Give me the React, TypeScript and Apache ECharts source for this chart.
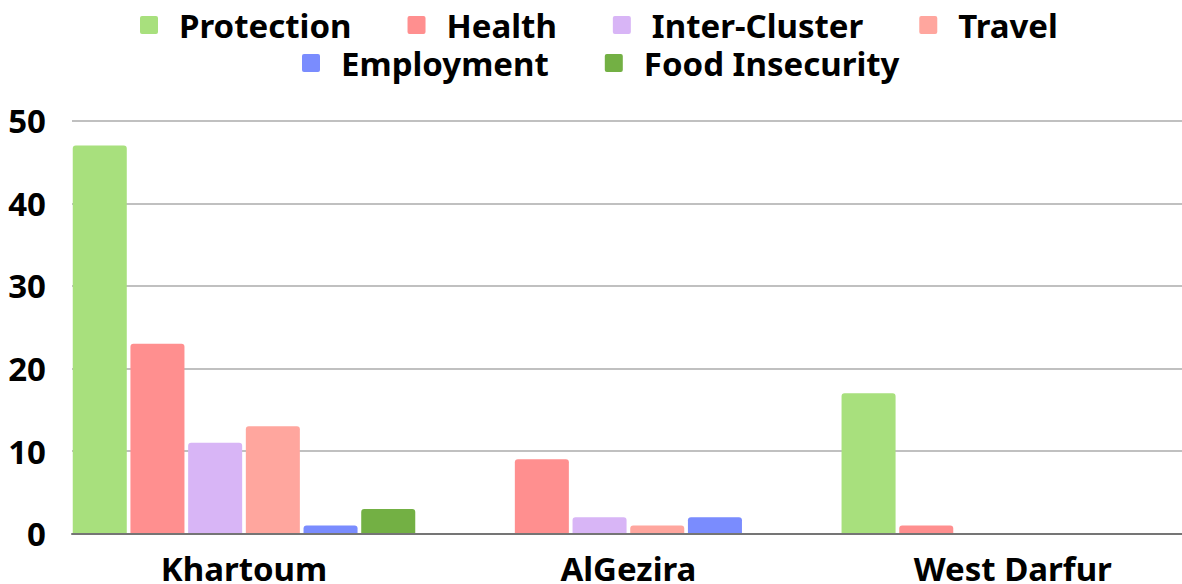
import React, { useEffect, useRef } from "react";
import * as echarts from "echarts";

const categories = ["Khartoum", "AlGezira", "West Darfur"];
const seriesNames = ["Protection", "Health", "Inter-Cluster", "Travel", "Employment", "Food Insecurity"];
const protection = [47, 0, 17];
const health = [23, 9, 1];
const interCluster = [11, 2, 0];
const travel = [13, 1, 0];
const employment = [1, 2, 0];
const foodInsecurity = [3, 0, 0];
const yTicks = [0, 10, 20, 30, 40, 50];
const colors = ["#a8e07d", "#ff8f8f", "#d8b5f6", "#ffa69e", "#7a8cfe", "#73b044"];

const FONT = "'Noto Sans', 'Open Sans', sans-serif";
const ICON = "path://M2,0H16A2,2,0,0,1,18,2V16A2,2,0,0,1,16,18H2A2,2,0,0,1,0,16V2A2,2,0,0,1,2,0Z";

export default function App() {
  const ref = useRef<HTMLDivElement>(null);
  useEffect(() => {
    document.body.style.margin = "0";
    if (!ref.current) return;
    const chart = echarts.init(ref.current, null, { renderer: "svg" });
    const values = [protection, health, interCluster, travel, employment, foodInsecurity];
    const top = 120.7;
    const bottom = 584 - 533.7;
    const legendText = {
      fontFamily: FONT,
      fontWeight: "bold" as const,
      fontSize: 33,
      lineHeight: 34,
      color: "#000",
      padding: [0, 0, 0, 16],
    };
    chart.setOption({
      animation: false,
      backgroundColor: "#fff",
      legend: [
        {
          data: seriesNames.slice(0, 4),
          top: 3,
          left: 135,
          icon: ICON,
          itemWidth: 18,
          itemHeight: 18,
          itemGap: 56,
          textStyle: legendText,
        },
        {
          data: seriesNames.slice(4),
          top: 41,
          left: 297,
          icon: ICON,
          itemWidth: 18,
          itemHeight: 18,
          itemGap: 56,
          textStyle: legendText,
        },
      ],
      grid: [
        { left: 72, right: 0, top, bottom, outerBoundsMode: "none", containLabel: false },
        { left: 51.8, width: 1153.2, top, bottom, outerBoundsMode: "none", containLabel: false },
      ],
      xAxis: [
        {
          gridIndex: 0,
          type: "category",
          data: categories,
          z: 5,
          axisLine: { show: true, lineStyle: { color: "#757575", width: 2 } },
          axisTick: { show: false },
          axisLabel: { show: false },
          splitLine: { show: false },
        },
        {
          gridIndex: 1,
          type: "category",
          data: categories,
          axisLine: { show: false },
          axisTick: { show: false },
          axisLabel: {
            margin: 18,
            fontFamily: FONT,
            fontWeight: "bold",
            fontSize: 33,
            color: "#000",
          },
        },
      ],
      yAxis: [
        {
          gridIndex: 0,
          type: "value",
          min: yTicks[0],
          max: yTicks[yTicks.length - 1],
          interval: 10,
          axisLine: { show: false },
          axisTick: { show: false },
          axisLabel: {
            margin: 26,
            fontFamily: FONT,
            fontWeight: "bold",
            fontSize: 33,
            color: "#000",
          },
          splitLine: { lineStyle: { color: "#c0c0c0", width: 2 } },
        },
        {
          gridIndex: 1,
          type: "value",
          min: yTicks[0],
          max: yTicks[yTicks.length - 1],
          show: false,
          splitLine: { show: false },
        },
      ],
      series: seriesNames.map((name, i) => ({
        name,
        type: "bar",
        xAxisIndex: 1,
        yAxisIndex: 1,
        data: values[i],
        barGap: "6.8%",
        barCategoryGap: "10.9%",
        itemStyle: { color: colors[i], borderRadius: [3, 3, 0, 0] },
      })),
    });
    return () => chart.dispose();
  }, []);
  return <div ref={ref} style={{ width: 1182, height: 584 }} />;
}
